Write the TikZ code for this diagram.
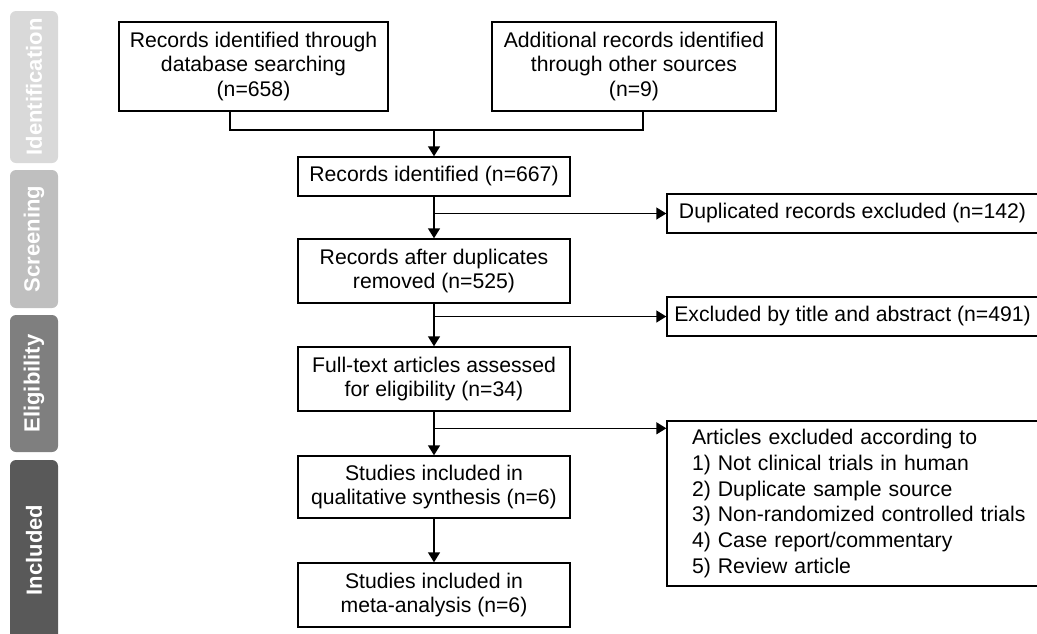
\documentclass[tikz,border=0pt]{standalone}
\usepackage{fontspec}
\setmainfont{Liberation Sans}
\usetikzlibrary{arrows.meta}
\definecolor{identgray}{HTML}{D9D9D9}
\definecolor{screengray}{HTML}{BFBFBF}
\definecolor{eliggray}{HTML}{7F7F7F}
\definecolor{inclgray}{HTML}{595959}
\tikzset{
  box/.style={draw, align=center, inner sep=0pt, font=\fontsize{10.6}{12.4}\selectfont},
  stage/.style={rotate=90, rounded corners=3pt, minimum height=24pt, inner sep=0pt,
    text=white, font=\fontsize{11}{13}\selectfont\bfseries},
}
\begin{document}
\begin{tikzpicture}[x=0.5pt,y=-0.5pt,>={Triangle[length=5pt,width=6pt]}, line width=0.7pt]
	\useasboundingbox (0,0) rectangle (1037,633);
	% phases on the left
	\node[stage, fill=identgray, minimum width=76pt] (ident) at (34,87) {Identification};
	\node[stage, fill=screengray, minimum width=69pt] (screen) at (34,239) {Screening};
	\node[stage, fill=eliggray, minimum width=68.5pt] (elig) at (34,383.5) {Eligibility};
	\node[stage, fill=inclgray, minimum width=90pt] (incl) at (34,550) {Included};
	% sources
	\node[box, minimum width=134.5pt, minimum height=44.5pt] (db) at (253.5,66.5)
		{Records identified through\\database searching\\(n=658)};
	\node[box, minimum width=142pt, minimum height=44.5pt] (other) at (634,66.5)
		{Additional records identified\\through other sources\\(n=9)};
	% main column
	\node[box, minimum width=136pt, minimum height=19.5pt] (rec) at (434,176.5) {Records identified (n=667)};
	\node[box, minimum width=136pt, minimum height=32pt] (nodup) at (434,271) {Records after duplicates\\removed (n=525)};
	\node[box, minimum width=136pt, minimum height=32pt] (full) at (434,379) {Full-text articles assessed\\for eligibility (n=34)};
	\node[box, minimum width=136pt, minimum height=31pt] (qual) at (434,487) {Studies included in\\qualitative synthesis (n=6)};
	\node[box, minimum width=136pt, minimum height=32pt] (meta) at (434,595) {Studies included in\\meta-analysis (n=6)};
	% exclusions
	\node[box, minimum width=185.5pt, minimum height=19.5pt] (dup) at (852.5,213.5) {Duplicated records excluded (n=142)};
	\node[box, minimum width=185.5pt, minimum height=19.5pt] (tiab) at (852.5,316.5) {Excluded by title and abstract (n=491)};
	\node[box, align=left, text width=172pt, inner xsep=12.5pt, minimum height=82.5pt,
		font=\fontsize{10.6}{12.85}\selectfont] (art) at (864,503.5)
		{Articles excluded according to\\1) Not clinical trials in human\\2) Duplicate sample source\\3) Non-randomized controlled trials\\4) Case report/commentary\\5) Review article};
	% connectors
	\coordinate (join) at (434,130);
	\coordinate (artin) at ([yshift=-4pt]art.north west);
	\draw ([xshift=-11.75pt]db.south) |- (join) -| ([xshift=4.5pt]other.south);
	\draw[->] (join) -- (rec);
	\draw[->] (rec) -- (nodup);
	\draw[->] (rec.south |- dup.west) -- (dup.west);
	\draw[->] (nodup) -- (full);
	\draw[->] (nodup.south |- tiab.west) -- (tiab.west);
	\draw[->] (full) -- (qual);
	\draw[->] (full.south |- artin) -- (artin);
	\draw[->] (qual) -- (meta);
\end{tikzpicture}
\end{document}
